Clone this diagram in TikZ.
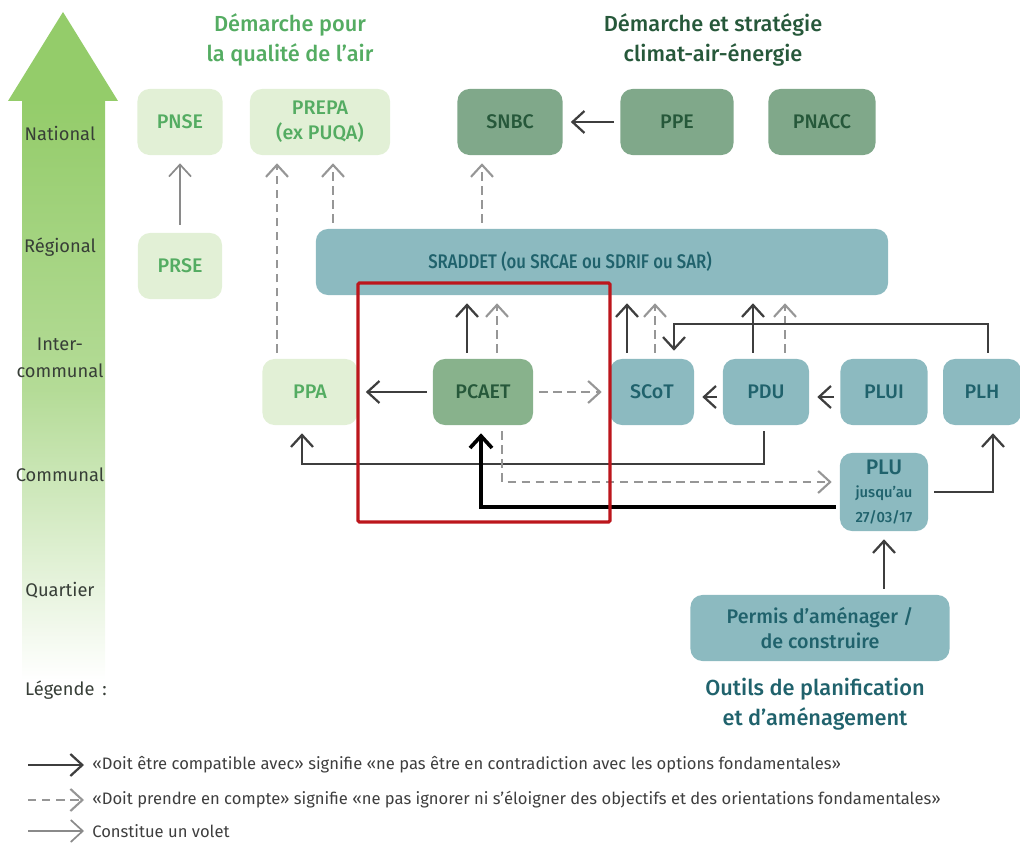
\documentclass[tikz,border=0pt]{standalone}
\usepackage{fontspec}
\setmainfont{Fira Sans}
\newfontfamily\medfont{Fira Sans Medium}
\newfontfamily\narrowfont{Fira Sans Medium}[FakeStretch=0.85]
\usetikzlibrary{arrows.meta,positioning}

\definecolor{arrowgreen}{RGB}{148,204,106}
\definecolor{airfill}{RGB}{226,240,214}
\definecolor{airtext}{RGB}{84,172,98}
\definecolor{climfill}{RGB}{128,168,138}
\definecolor{climtext}{RGB}{38,88,58}
\definecolor{pcaetfill}{RGB}{136,178,140}
\definecolor{planfill}{RGB}{140,186,192}
\definecolor{plantext}{RGB}{32,98,108}
\definecolor{darkline}{RGB}{62,62,62}
\definecolor{grayline}{RGB}{138,138,138}
\definecolor{dashline}{RGB}{150,150,150}
\definecolor{redframe}{RGB}{188,22,28}
\definecolor{leveltext}{RGB}{55,62,55}

\tikzset{
    box/.style={rounded corners=3mm, minimum height=1.65cm, align=center, inner sep=0pt,
        font=\medfont\fontsize{14}{18}\selectfont},
    airbox/.style={box, fill=airfill, text=airtext},
    climbox/.style={box, fill=climfill, text=climtext},
    planbox/.style={box, fill=planfill, text=plantext},
    level/.style={align=center, text=leveltext, font=\fontsize{13}{19}\selectfont},
    header/.style={align=center, font=\medfont\fontsize{15.5}{21}\selectfont},
    legendtext/.style={anchor=west, text=darkline, inner sep=0pt, font=\fontsize{11.8}{14}\selectfont},
    tip/.style={-{Straight Barb[length=3mm,width=5.5mm]}},
    compat/.style={draw=darkline, line width=1.6pt, tip, shorten >=2mm, shorten <=1.5mm},
    prendre/.style={draw=dashline, line width=1.5pt, dash pattern=on 6pt off 4pt, tip, shorten >=2mm, shorten <=1.5mm},
    volet/.style={draw=grayline, line width=1.2pt, tip, shorten >=2mm, shorten <=2mm},
    thickblack/.style={draw=black, line width=2.6pt, tip, shorten >=2mm, shorten <=1mm},
}

\begin{document}
\begin{tikzpicture}[x=0.025cm, y=-0.025cm]
    \useasboundingbox (0,0) rectangle (1020,845);

    % grande fleche des echelles
    \shade[top color=arrowgreen, bottom color=white, middle color=arrowgreen!70] (22,100) rectangle (105,680);
    \fill[arrowgreen] (8,101) -- (63,12) -- (118,101) -- cycle;

    \node[level] (national) at (60,133) {National};
    \node[level] (regional) at (60,247) {Régional};
    \node[level] (intercom) at (60,358) {Inter-\\communal};
    \node[level] (communal) at (60,475) {Communal};
    \node[level] (quartier) at (60,590) {Quartier};
    \node[level] (legende) at (66,690) {Légende\, :};

    % titres
    \node[header, text=airtext] (airtitle) at (290,40) {Démarche pour\\la qualité de l’air};
    \node[header, text=climtext] (climtitle) at (713,40) {Démarche et stratégie\\climat-air-énergie};
    \node[header, text=plantext] (plantitle) at (815,704) {Outils de planification\\et d’aménagement};

    % niveau national
    \node[airbox, minimum width=2.125cm] (pnse) at (180,122) {PNSE};
    \node[airbox, minimum width=3.5cm] (prepa) at (320,122) {PREPA\\(ex PUQA)};
    \node[climbox, minimum width=2.625cm] (snbc) at (510,122) {SNBC};
    \node[climbox, minimum width=2.825cm] (ppe) at (677,122) {PPE};
    \node[climbox, minimum width=2.675cm] (pnacc) at (822,122) {PNACC};

    % niveau regional
    \node[airbox, minimum width=2.1cm] (prse) at (180,266) {PRSE};
    \node[planbox, minimum width=14.3cm, font=\narrowfont\fontsize{14}{18}\selectfont] (sraddet) at (602,262)
        {SRADDET (ou SRCAE ou SDRIF ou SAR)\hspace*{1.6cm}};

    % niveau intercommunal
    \node[airbox, minimum width=2.375cm] (ppa) at (310,392) {PPA};
    \node[box, fill=pcaetfill, text=climtext, minimum width=2.5cm] (pcaet) at (483,392) {PCAET};
    \node[planbox, minimum width=2.1cm] (scot) at (652,392) {SCoT};
    \node[planbox, minimum width=2.15cm] (pdu) at (766,392) {PDU};
    \node[planbox, minimum width=2.175cm] (plui) at (884,392) {PLUI};
    \node[planbox, minimum width=1.95cm] (plh) at (982,392) {PLH};

    % niveau communal et quartier
    \node[planbox, minimum width=2.2cm, minimum height=1.95cm] (plu) at (884,492)
        {\fontsize{15}{17}\selectfont PLU\\[-2pt]\fontsize{10.5}{15}\selectfont jusqu’au\\\fontsize{10.5}{15}\selectfont 27/03/17};
    \node[planbox, minimum width=6.475cm] (permis) at (820,628) {Permis d’aménager /\\de construire};

    % liens
    \draw[volet] (prse) -- (pnse);
    \draw[prendre] ([xshift=-0.825cm]ppa.north) -- ([xshift=-0.825cm]ppa.north |- prepa.south);
    \draw[prendre] ([xshift=0.325cm]prepa.south |- sraddet.north) -- ([xshift=0.325cm]prepa.south);
    \draw[prendre] ([xshift=-0.7cm]snbc.south |- sraddet.north) -- ([xshift=-0.7cm]snbc.south);
    \draw[compat] (ppe) -- (snbc);

    \draw[compat] ([xshift=-0.4cm]pcaet.north) -- ([xshift=-0.4cm]pcaet.north |- sraddet.south);
    \draw[prendre] ([xshift=0.35cm]pcaet.north) -- ([xshift=0.35cm]pcaet.north |- sraddet.south);
    \draw[compat] (pcaet) -- (ppa);
    \draw[prendre] (pcaet) -- (scot);
    \draw[compat] ([xshift=-0.625cm]scot.north) -- ([xshift=-0.625cm]scot.north |- sraddet.south);
    \draw[prendre] ([xshift=0.075cm]scot.north) -- ([xshift=0.075cm]scot.north |- sraddet.south);
    \draw[compat] ([xshift=-0.325cm]pdu.north) -- ([xshift=-0.325cm]pdu.north |- sraddet.south);
    \draw[prendre] ([xshift=0.475cm]pdu.north) -- ([xshift=0.475cm]pdu.north |- sraddet.south);

    \coordinate (plhbar) at (0,324);
    \draw[compat] ([xshift=0.15cm]plh.north) -- ([xshift=0.15cm]plh.north |- plhbar) -| ([xshift=0.55cm]scot.north);
    \draw[compat] ([yshift=-0.125cm]pdu.west) -- ([yshift=-0.125cm]pdu.west -| scot.east);
    \draw[compat] ([yshift=-0.125cm]plui.west) -- ([yshift=-0.125cm]plui.west -| pdu.east);

    \coordinate (ppabar) at (0,464);
    \draw[compat] ([xshift=-0.05cm]pdu.south) -- ([xshift=-0.05cm]pdu.south |- ppabar) -| ([xshift=-0.2cm]ppa.south);
    \draw[prendre] ([xshift=0.475cm]pcaet.south) |- ([yshift=0.25cm]plu.west);
    \draw[thickblack] ([yshift=-0.375cm]plu.west) -| ([xshift=-0.05cm]pcaet.south);
    \draw[compat] (plu.east) -| ([xshift=0.275cm]plh.south);
    \draw[compat] (plu.south |- permis.north) -- (plu.south);

    % cadre rouge
    \draw[redframe, line width=2.2pt, rounded corners=1pt] (358,283) rectangle (610,522);

    % legende
    \coordinate (compatA) at (28,765);
    \coordinate (compatB) at (84,765);
    \coordinate (prendreA) at (28,800);
    \coordinate (prendreB) at (84,800);
    \coordinate (voletA) at (28,831);
    \coordinate (voletB) at (84,831);
    \draw[compat, shorten >=0pt, shorten <=0pt] (compatA) -- (compatB);
    \draw[prendre, shorten >=0pt, shorten <=0pt] (prendreA) -- (prendreB);
    \draw[volet, shorten >=0pt, shorten <=0pt] (voletA) -- (voletB);
    \node[legendtext] (compattext) at (92,765) {«Doit être compatible avec» signifie «ne pas être en contradiction avec les options fondamentales»};
    \node[legendtext] (prendretext) at (92,800) {«Doit prendre en compte» signifie «ne pas ignorer ni s’éloigner des objectifs et des orientations fondamentales»};
    \node[legendtext] (volettext) at (92,831) {Constitue un volet};
\end{tikzpicture}
\end{document}
